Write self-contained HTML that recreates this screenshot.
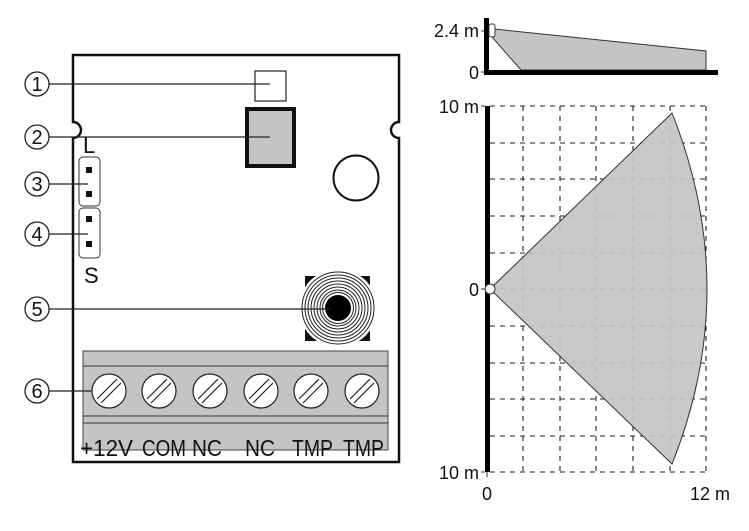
<!DOCTYPE html>
<html><head><style>
html,body{margin:0;padding:0;background:#fff;}
svg{display:block;}
text{font-family:"Liberation Sans",sans-serif;fill:#111;}
</style></head><body>
<svg width="749" height="531" viewBox="0 0 749 531" xmlns="http://www.w3.org/2000/svg">
<!-- Board -->
<path d="M73,55 H399 V122 A8,8 0 0 0 399,138 V462 H73 V138 A8,8 0 0 0 73,122 Z" fill="#fff" stroke="#111" stroke-width="2.5"/>
<rect x="255" y="71" width="31" height="30" fill="#fff" stroke="#222" stroke-width="1.2"/>
<rect x="247" y="109" width="47" height="57" fill="#c4c4c4" stroke="#111" stroke-width="4"/>
<circle cx="356" cy="178" r="22.5" fill="#fff" stroke="#111" stroke-width="2"/>
<!-- jumpers -->
<text x="83" y="153" font-size="22" transform="scale(1,1)">L</text>
<rect x="79" y="157" width="21" height="49" rx="4" fill="#fff" stroke="#333" stroke-width="1"/>
<rect x="79" y="208" width="21" height="50" rx="4" fill="#fff" stroke="#333" stroke-width="1"/>
<rect x="86" y="167" width="6" height="6" fill="#111"/>
<rect x="86" y="191" width="6" height="6" fill="#111"/>
<rect x="86" y="216" width="6" height="6" fill="#111"/>
<rect x="86" y="241" width="6" height="6" fill="#111"/>
<text x="84" y="283" font-size="22">S</text>
<!-- buzzer -->
<rect x="305" y="276" width="65" height="65" fill="#111"/>
<circle cx="338" cy="308" r="39" fill="#fff"/>
<g fill="none" stroke="#222" stroke-width="1">
<circle cx="338" cy="308" r="36"/><circle cx="338" cy="308" r="33"/><circle cx="338" cy="308" r="30"/><circle cx="338" cy="308" r="27"/><circle cx="338" cy="308" r="24"/><circle cx="338" cy="308" r="21"/><circle cx="338" cy="308" r="18"/><circle cx="338" cy="308" r="15.5"/>
</g>
<circle cx="338" cy="308" r="13" fill="#000"/>
<!-- terminal block -->
<rect x="83" y="351" width="305" height="99" fill="#c4c4c4" stroke="#444" stroke-width="1"/>
<line x1="83" y1="366" x2="388" y2="366" stroke="#333" stroke-width="1"/>
<line x1="83" y1="416" x2="388" y2="416" stroke="#333" stroke-width="1"/>
<line x1="83" y1="423" x2="388" y2="423" stroke="#333" stroke-width="1"/>
<g fill="#fff" stroke="#222" stroke-width="1.2">
<circle cx="109" cy="391" r="17"/><circle cx="159" cy="391" r="17"/><circle cx="210" cy="391" r="17"/><circle cx="261" cy="391" r="17"/><circle cx="311" cy="391" r="17"/><circle cx="362" cy="391" r="17"/>
</g>
<g stroke="#222" stroke-width="1.2">
<path d="M97,399 L117,379 M101,403 L121,383"/>
<path d="M147,399 L167,379 M151,403 L171,383"/>
<path d="M198,399 L218,379 M202,403 L222,383"/>
<path d="M249,399 L269,379 M253,403 L273,383"/>
<path d="M299,399 L319,379 M303,403 L323,383"/>
<path d="M350,399 L370,379 M354,403 L374,383"/>
</g>
<g font-size="23">
<text x="80" y="456" textLength="53" lengthAdjust="spacingAndGlyphs">+12V</text>
<text x="142" y="456" textLength="44" lengthAdjust="spacingAndGlyphs">COM</text>
<text x="192" y="456" textLength="30" lengthAdjust="spacingAndGlyphs">NC</text>
<text x="245" y="456" textLength="30" lengthAdjust="spacingAndGlyphs">NC</text>
<text x="292" y="456" textLength="41" lengthAdjust="spacingAndGlyphs">TMP</text>
<text x="343" y="456" textLength="41" lengthAdjust="spacingAndGlyphs">TMP</text>
</g>
<!-- callouts -->
<g stroke="#222" stroke-width="1.2" fill="none">
<line x1="49" y1="84" x2="270" y2="84"/>
<line x1="49" y1="137" x2="270" y2="137"/>
<line x1="49" y1="184" x2="88" y2="184"/>
<line x1="49" y1="234" x2="88" y2="234"/>
<line x1="49" y1="309" x2="330" y2="309"/>
<line x1="49" y1="391" x2="92" y2="391"/>
</g>
<g fill="#fff" stroke="#222" stroke-width="1.3">
<circle cx="37" cy="84" r="12"/><circle cx="37" cy="137" r="12"/><circle cx="37" cy="184" r="12"/><circle cx="37" cy="234" r="12"/><circle cx="37" cy="309" r="12"/><circle cx="37" cy="391" r="12"/>
</g>
<g font-size="20" text-anchor="middle">
<text x="37" y="91">1</text><text x="37" y="144">2</text><text x="37" y="191">3</text><text x="37" y="241">4</text><text x="37" y="316">5</text><text x="37" y="398">6</text>
</g>
<!-- top side view -->
<polygon points="494,29 706,51 706,70 521,70 492,37" fill="#c4c4c4" stroke="#333" stroke-width="1"/>
<rect x="484" y="18" width="5" height="57" fill="#000"/>
<rect x="484" y="70" width="234" height="5" fill="#000"/>
<rect x="489" y="24" width="6" height="13" rx="2" fill="#fff" stroke="#333" stroke-width="1"/>
<line x1="481" y1="31" x2="484" y2="31" stroke="#333"/>
<line x1="481" y1="72" x2="484" y2="72" stroke="#333"/>
<text x="479" y="37" font-size="18" text-anchor="end">2.4 m</text>
<text x="479" y="79" font-size="18" text-anchor="end">0</text>
<!-- grid -->
<g stroke="#222" stroke-width="1.1" stroke-dasharray="5,5" fill="none">
<path d="M490,106H707M490,143H707M490,179H707M490,216H707M490,253H707M490,289H707M490,326H707M490,363H707M490,399H707M490,436H707M490,472H707"/>
<path d="M523,106V472M560,106V472M596,106V472M633,106V472M670,106V472M706,106V472"/>
</g>
<path d="M490,289 L672,113 Q742,289 672,464 Z" fill="#c4c4c4" fill-opacity="0.92" stroke="#333" stroke-width="1"/>
<rect x="485" y="106" width="5" height="366" fill="#000"/>
<circle cx="490" cy="289" r="5" fill="#fff" stroke="#333" stroke-width="1"/>
<line x1="481" y1="106" x2="485" y2="106" stroke="#333"/>
<line x1="481" y1="289" x2="485" y2="289" stroke="#333"/>
<line x1="481" y1="472" x2="485" y2="472" stroke="#333"/>
<line x1="487" y1="472" x2="487" y2="477" stroke="#333"/>
<text x="479" y="113" font-size="18" text-anchor="end">10 m</text>
<text x="479" y="296" font-size="18" text-anchor="end">0</text>
<text x="479" y="479" font-size="18" text-anchor="end">10 m</text>
<text x="487" y="500" font-size="18" text-anchor="middle">0</text>
<text x="710" y="500" font-size="18" text-anchor="middle">12 m</text>
</svg>
</body></html>
